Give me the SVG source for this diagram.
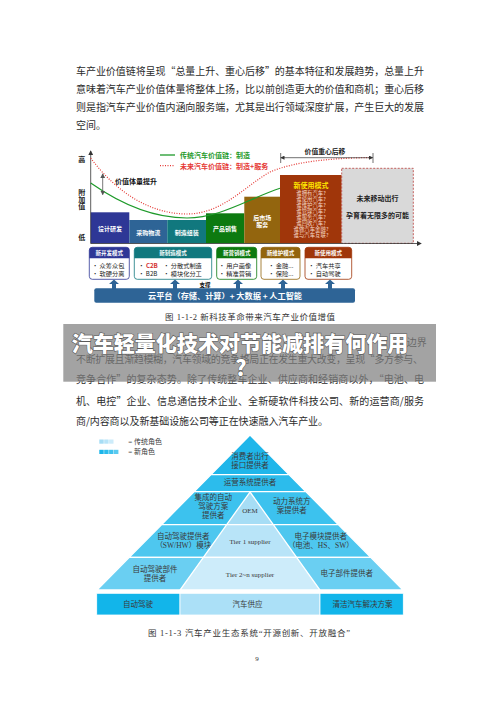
<svg xmlns="http://www.w3.org/2000/svg" width="500" height="707" viewBox="0 0 500 707">
<style>
.body{font-family:"Noto Sans CJK SC","Liberation Serif",sans-serif;font-size:10px;fill:#2b2b2b;dominant-baseline:central}
.cap{font-family:"Liberation Serif","Noto Sans CJK SC",serif;font-size:8.5px;fill:#333;dominant-baseline:central;text-anchor:middle}
.f{font-family:"Noto Sans CJK SC",sans-serif;font-weight:bold;dominant-baseline:central;text-anchor:middle}
.w{fill:#fff}
.sm{font-size:6px}
.it{font-family:"Noto Sans CJK SC",sans-serif;font-size:6.2px;fill:#222;dominant-baseline:central}
.hd{font-family:"Noto Sans CJK SC",sans-serif;font-weight:bold;font-size:5.5px;fill:#fff;dominant-baseline:central;text-anchor:middle}
.q{font-family:"Noto Sans CJK SC",sans-serif;font-size:5.4px;fill:#F6D9C8;dominant-baseline:central;text-anchor:middle}
.py{font-family:"Liberation Serif","Noto Sans CJK SC",serif;font-size:7.5px;fill:#3a3a3a;dominant-baseline:central;text-anchor:middle}
.ps{stroke:#fff;stroke-width:1.3;stroke-linejoin:miter}
.ax{stroke:#333;stroke-width:0.8;fill:none}
.up{fill:#2E6496}
.mb{fill:#fff;stroke-width:0.8}
</style>
<defs>
<marker id="ah" markerWidth="6" markerHeight="6" refX="5" refY="3" orient="auto-start-reverse" markerUnits="strokeWidth">
<path d="M0,0 L6,3 L0,6 z" fill="#333"/>
</marker>
<marker id="ag" markerWidth="6" markerHeight="6" refX="5" refY="3" orient="auto-start-reverse" markerUnits="strokeWidth">
<path d="M0,0 L6,3 L0,6 z" fill="#555"/>
</marker>
</defs>
<rect width="500" height="707" fill="#fff"/>

<g id="para1">
<text class="body" x="76" y="70" textLength="348" lengthAdjust="spacing">车产业价值链将呈现“总量上升、重心后移”的基本特征和发展趋势，总量上升</text>
<text class="body" x="76" y="88.3" textLength="348" lengthAdjust="spacing">意味着汽车产业价值体量将整体上扬，比以前创造更大的价值和商机；重心后移</text>
<text class="body" x="76" y="106.7" textLength="348" lengthAdjust="spacing">则是指汽车产业价值内涵向服务端，尤其是出行领域深度扩展，产生巨大的发展</text>
<text class="body" x="76" y="124.3">空间。</text>
</g>

<g id="fig1">
<g id="legend1">
<line x1="160" y1="155" x2="175" y2="155" stroke="#1E9A2A" stroke-width="1.3"/>
<text class="f" x="180" y="155" style="font-size:7px;fill:#1E9A2A;text-anchor:start">传统汽车价值链：制造</text>
<line x1="160" y1="165.7" x2="175" y2="165.7" stroke="#E53935" stroke-width="1.2" stroke-dasharray="1 1.5"/>
<text class="f" x="180" y="165.7" style="font-size:7px;fill:#E53935;text-anchor:start">未来汽车价值链：制造+服务</text>
</g>
<g id="axislabels">
<text class="f" x="81.7" y="159" style="font-size:7px;fill:#222">高</text>
<text class="f" x="81.7" y="191.7" style="font-size:7px;fill:#222">附</text>
<text class="f" x="81.7" y="198.7" style="font-size:7px;fill:#222">加</text>
<text class="f" x="81.7" y="205.7" style="font-size:7px;fill:#222">值</text>
<text class="f" x="81.7" y="236.7" style="font-size:7px;fill:#222">低</text>
</g>
<g id="chain">
<g id="b1"><rect x="90.7" y="212.3" width="38.6" height="31" fill="#2E3796"/><text class="f w sm" x="110" y="228.3">设计研发</text></g>
<g id="b2"><rect x="129.3" y="220" width="38" height="23.3" fill="#2E6496"/><text class="f w sm" x="148.3" y="232.3">采购物流</text></g>
<g id="b3"><rect x="167.3" y="220" width="38.7" height="23.3" fill="#11787E"/><text class="f w sm" x="186.7" y="232.3">制造组装</text></g>
<g id="b4"><rect x="206" y="213.3" width="38.3" height="30" fill="#0D7A10"/><text class="f w sm" x="225" y="228">产品销售</text></g>
<g id="b5"><rect x="244.3" y="196.7" width="35.7" height="46.6" fill="#93650E"/><text class="f w sm" x="262.2" y="217.7">后市场</text><text class="f w sm" x="262.2" y="224.5">服务</text></g>
<g id="b6"><rect x="280" y="175" width="61.7" height="68.3" fill="#A0360A"/>
<text class="f" x="311" y="185" style="font-size:7px;fill:#FFE600">新使用模式</text>
<text class="q" x="311" y="192.7">谁拥有汽车?</text>
<text class="q" x="311" y="198.7">谁使用汽车?</text>
<text class="q" x="311" y="204.7">谁维护汽车?</text>
<text class="q" x="311" y="210.7">谁管理汽车?</text>
<text class="q" x="311" y="216.7">谁服务汽车?</text>
<text class="q" x="311" y="222.7">谁回收汽车?</text>
<text class="q" x="311" y="228.7">谁做汽车金融?</text>
<text class="q" x="311" y="234.7">谁与汽车互联?</text>
</g>
<g id="b7"><rect x="341.7" y="168.3" width="71.6" height="75" fill="#D9D9D9" stroke="#C0504D" stroke-width="0.9" stroke-dasharray="2 1.5"/>
<text class="f" x="377.5" y="198.3" style="font-size:7px;fill:#222">未来移动出行</text>
<text class="f" x="377.5" y="215" style="font-size:7px;fill:#222">孕育着无限多的可能</text>
</g>
</g>
<g id="connectors1">
<line class="ax" x1="90.7" y1="243.5" x2="90.7" y2="151" marker-end="url(#ah)"/>
<line class="ax" x1="90.7" y1="243.5" x2="421" y2="243.5" marker-end="url(#ah)"/>
<path d="M90.7,183 C125,207 158,218 187,218 C220,218 248,199 280,188.3" fill="none" stroke="#1E9A2A" stroke-width="1.2"/>
<path d="M90.7,158 C116,192 150,214 187,214 C222,214 245,186 270,172 C298,160 340,158 373,157.5" fill="none" stroke="#E53935" stroke-width="1.2" stroke-dasharray="1 1.5"/>
<line x1="102.7" y1="174" x2="102.7" y2="194.5" stroke="#555" stroke-width="0.8" marker-start="url(#ag)" marker-end="url(#ag)"/>
<line x1="281" y1="157.7" x2="372.5" y2="157.7" stroke="#333" stroke-width="0.7" marker-start="url(#ah)" marker-end="url(#ah)"/>
<line x1="280.7" y1="153" x2="280.7" y2="163" stroke="#333" stroke-width="0.7"/>
<line x1="373" y1="153" x2="373" y2="163" stroke="#333" stroke-width="0.7"/>
</g>
<text class="f" x="136" y="180.7" style="font-size:7px;fill:#111">价值体量提升</text>
<text class="f" x="325" y="151" style="font-size:6.8px;fill:#222">价值重心后移</text>

<g id="modes">
<g id="mA"><rect class="mb" x="89.3" y="247.3" width="40" height="32" rx="3" stroke="#2E3796"/><path d="M89.3,258.3 V250.3 Q89.3,247.3 92.3,247.3 H126.3 Q129.3,247.3 129.3,250.3 V258.3 Z" fill="#2E3796"/><text class="hd" x="109.3" y="252.8">新开发模式</text>
<text class="it" x="92" y="265">•  众筹众包</text><text class="it" x="92" y="273.3">•  软硬分离</text></g>
<g id="mB"><rect class="mb" x="134.3" y="247.3" width="77.4" height="32" rx="3" stroke="#11787E"/><path d="M134.3,258.3 V250.3 Q134.3,247.3 137.3,247.3 H208.7 Q211.7,247.3 211.7,250.3 V258.3 Z" fill="#11787E"/><text class="hd" x="173" y="252.8">新制造模式</text>
<text class="it" x="138.3" y="265">• <tspan fill="#D32F2F" font-weight="bold">C2B</tspan></text><text class="it" x="163.3" y="265">•  分散式制造</text>
<text class="it" x="138.3" y="273.3">• B2B</text><text class="it" x="163.3" y="273.3">•  模块化分工</text></g>
<g id="mC"><rect class="mb" x="216.7" y="247.3" width="40" height="32" rx="3" stroke="#0D7A10"/><path d="M216.7,258.3 V250.3 Q216.7,247.3 219.7,247.3 H253.7 Q256.7,247.3 256.7,250.3 V258.3 Z" fill="#0D7A10"/><text class="hd" x="236.7" y="252.8">新营销模式</text>
<text class="it" x="218.8" y="265">•  用户画像</text><text class="it" x="218.8" y="273.3">•  精准营销</text></g>
<g id="mD"><rect class="mb" x="261" y="247.3" width="39" height="32" rx="3" stroke="#93650E"/><path d="M261,258.3 V250.3 Q261,247.3 264,247.3 H297 Q300,247.3 300,250.3 V258.3 Z" fill="#93650E"/><text class="hd" x="280.5" y="252.8">新维护模式</text>
<text class="it" x="268.3" y="265">•  金融...</text><text class="it" x="268.3" y="273.3">•  保险...</text></g>
<g id="mE"><rect class="mb" x="305" y="247.3" width="46.7" height="32" rx="3" stroke="#A0360A"/><path d="M305,258.3 V250.3 Q305,247.3 308,247.3 H348.7 Q351.7,247.3 351.7,250.3 V258.3 Z" fill="#A0360A"/><text class="hd" x="328.3" y="252.8">新使用模式</text>
<text class="it" x="308.3" y="265">•  汽车共享</text><text class="it" x="308.3" y="273.3">•  自动驾驶</text></g>
</g>
<g id="connectors2">
<polygon class="up" points="114,279.5 119,284 116,284 116,289 112,289 112,284 109,284"/>
<polygon class="up" points="175,279.5 180,284 177,284 177,289 173,289 173,284 170,284"/>
<polygon class="up" points="238,279.5 243,284 240,284 240,289 236,289 236,284 233,284"/>
<polygon class="up" points="283,279.5 288,284 285,284 285,289 281,289 281,284 278,284"/>
<polygon class="up" points="330,279.5 335,284 332,284 332,289 328,289 328,284 325,284"/>
</g>
<text class="f" x="205" y="285" style="font-size:5.5px;fill:#111">支撑</text>
<g id="platform"><rect x="94.3" y="288.3" width="260.7" height="14.4" rx="2" fill="#2E6496"/>
<text class="f w" x="225" y="295.7" style="font-size:7.5px" textLength="154" lengthAdjust="spacingAndGlyphs">云平台（存储、计算）+ 大数据 + 人工智能</text></g>
</g>
<text class="cap" x="250" y="317" textLength="170" lengthAdjust="spacing">图 1-1-2  新科技革命带来汽车产业价值增值</text>

<g id="para2">
<text class="body" x="406.7" y="341.7">边界</text>
<text class="body" x="76" y="358.3" textLength="347" lengthAdjust="spacing">不断扩展且渐趋模糊，汽车领域的竞争格局正在发生重大改变，呈现“多方参与、</text>
<text class="body" x="76" y="378.3" textLength="348" lengthAdjust="spacing">竞争合作”的复杂态势。除了传统整车企业、供应商和经销商以外，“电池、电</text>
<text class="body" x="76" y="400" textLength="348" lengthAdjust="spacing">机、电控”企业、信息通信技术企业、全新硬软件科技公司、新的运营商/服务</text>
<text class="body" x="76" y="420" textLength="252" lengthAdjust="spacing">商/内容商以及新基础设施公司等正在快速融入汽车产业。</text>
</g>

<g id="banner">
<rect x="63.3" y="324" width="372.7" height="57.7" fill="#808080" fill-opacity="0.72"/>
<text x="71.7" y="341.7" textLength="336.6" lengthAdjust="spacingAndGlyphs" style="font-family:'Noto Sans CJK SC',sans-serif;font-weight:900;font-size:21px;fill:#fff;stroke:#5a5a5a;stroke-width:1.2;paint-order:stroke;dominant-baseline:central">汽车轻量化技术对节能减排有何作用</text>
<text x="241" y="367" text-anchor="middle" style="font-family:'Noto Sans CJK SC',sans-serif;font-weight:900;font-size:21px;fill:#fff;stroke:#5a5a5a;stroke-width:1.2;paint-order:stroke;dominant-baseline:central">?</text>
</g>

<g id="fig2">
<g id="legend2">
<rect x="99.3" y="439.5" width="4.4" height="4.2" fill="#A6DDF5"/><rect x="104.2" y="439.5" width="4.4" height="4.2" fill="#B8E4F8"/><rect x="109.1" y="439.5" width="4.4" height="4.2" fill="#CDECFA"/>
<text class="py" x="128.3" y="441.7" style="text-anchor:start;font-size:7px">= 传统角色</text>
<rect x="99.3" y="449.8" width="4.4" height="4.2" fill="#1AB5EA"/><rect x="104.2" y="449.8" width="4.4" height="4.2" fill="#2CBCEC"/><rect x="109.1" y="449.8" width="4.4" height="4.2" fill="#3FC2EE"/><rect x="114" y="449.8" width="4.4" height="4.2" fill="#5ACAF0"/>
<text class="py" x="128.3" y="451.7" style="text-anchor:start;font-size:7px">= 新角色</text>
</g>
<g id="t1"><polygon class="ps" points="250,435 289.2,474.7 210.8,474.7" fill="#1FB6EA"/>
<text class="py" x="250" y="456.7">消费者出行</text><text class="py" x="250" y="465.5">接口提供者</text></g>
<g id="t2"><polygon class="ps" points="210.8,474.7 289.2,474.7 306,491.7 194,491.7" fill="#2CBCEC"/>
<text class="py" x="250" y="482.5">运营系统提供者</text></g>
<g id="t3"><polygon class="ps" points="194,491.7 306,491.7 338.5,524.7 161.5,524.7" fill="#3CC2EE"/>
<text class="py" x="213.3" y="497.7">集成的自动</text><text class="py" x="213.3" y="506.5">驾驶方案</text><text class="py" x="213.3" y="515.2">提供者</text>
<text class="py" x="291.7" y="501.7">动力系统方</text><text class="py" x="291.7" y="510.3">案提供者</text></g>
<g id="t4"><polygon class="ps" points="161.5,524.7 338.5,524.7 370.7,557.3 129.3,557.3" fill="#4EC7EF"/>
<text class="py" x="183.3" y="536.7">自动驾驶提供者</text><text class="py" x="183.3" y="545.3">（SW/HW）模块</text>
<text class="py" x="320.8" y="536.7">电子模块提供者</text><text class="py" x="320.8" y="545.3">（电池、HS、SW）</text></g>
<g id="t5"><polygon class="ps" points="129.3,557.3 370.7,557.3 403,590 97,590" fill="#6ACFF2"/>
<text class="py" x="155" y="569.7">自动驾驶部件</text><text class="py" x="155" y="578.3">提供者</text>
<text class="py" x="346.7" y="573.5">电子部件提供者</text></g>
<g id="oem"><polygon class="ps" points="250,492 273.3,524.7 226.7,524.7" fill="#A6DDF5"/><text class="py" x="250" y="511" style="font-size:7px">OEM</text></g>
<g id="tier1"><polygon class="ps" points="226.7,524.7 273.3,524.7 296.6,557.3 203.4,557.3" fill="#B8E4F8"/><text class="py" x="250" y="541.7" style="font-size:7px">Tier 1 supplier</text></g>
<g id="tier2"><polygon class="ps" points="203.4,557.3 296.6,557.3 320,590 180,590" fill="#CDECFA"/><text class="py" x="250" y="574.5" style="font-size:7px">Tier 2~n supplier</text></g>
<g id="base1"><rect class="ps" x="96.7" y="593.3" width="83.3" height="21.7" fill="#12B5EA" style="stroke-width:0.8"/><text class="py" x="138" y="604">自动驾驶</text></g>
<g id="base2"><rect class="ps" x="180" y="593.3" width="140" height="21.7" fill="#ABE0F7" style="stroke-width:0.8"/><text class="py" x="247.5" y="604">汽车供应</text></g>
<g id="base3"><rect class="ps" x="320" y="593.3" width="83.3" height="21.7" fill="#12B5EA" style="stroke-width:0.8"/><text class="py" x="362.5" y="604">清洁汽车解决方案</text></g>
</g>
<text class="cap" x="249" y="632.7" textLength="202" lengthAdjust="spacing">图 1-1-3  汽车产业生态系统“开源创新、开放融合”</text>
<text class="cap" x="257" y="659" style="font-size:7px">9</text>
</svg>
